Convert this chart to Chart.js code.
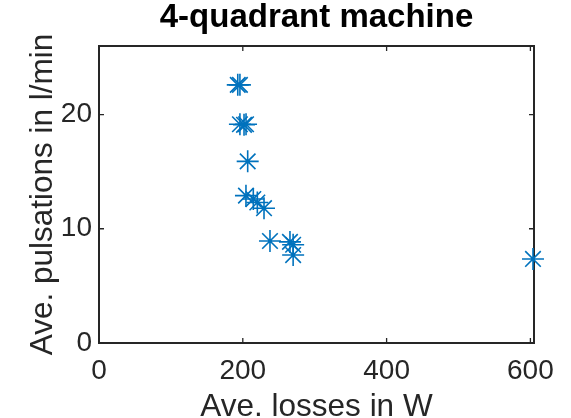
<!DOCTYPE html>
<html>
<head>
<meta charset="utf-8">
<script src="https://cdn.jsdelivr.net/npm/chart.js@4"></script>
<style>
  html, body { margin: 0; padding: 0; background: #fff; }
  #wrap { width: 571px; height: 418px; }
</style>
</head>
<body>
<div id="wrap"><canvas id="myChart"></canvas></div>
<script>
// average losses (W) vs average pulsations (l/min)
var losses = [193, 196, 196, 201.7, 204.5, 206.8, 204.4, 214.6, 220.2, 229.5, 237.8, 265.6, 270, 270, 603.6];
var pulsations = [22.6, 22.6, 19.15, 19.1, 19.15, 15.9, 12.9, 12.6, 12.3, 11.8, 8.93, 8.85, 8.6, 7.7, 7.36];
var xTicks = [0, 200, 400, 600];
var yTicks = [0, 10, 20];

var axisColor = '#262626';
var markerColor = '#0072BD';
var fontFamily = 'Liberation Sans, Arial, sans-serif';

// MATLAB style box with inward tick marks on all four sides
var boxPlugin = {
    id: 'boxAxes',
    beforeDatasetsDraw(chart) {
        const { ctx, chartArea: a, scales } = chart;
        const len = 5;
        ctx.save();
        ctx.strokeStyle = axisColor;
        ctx.lineWidth = 2;
        ctx.strokeRect(a.left, a.top, a.right - a.left, a.bottom - a.top);
        ctx.beginPath();
        xTicks.forEach(function (t) {
            const px = scales.x.getPixelForValue(t);
            ctx.moveTo(px, a.bottom); ctx.lineTo(px, a.bottom - len);
            ctx.moveTo(px, a.top); ctx.lineTo(px, a.top + len);
        });
        yTicks.forEach(function (t) {
            const py = scales.y.getPixelForValue(t);
            ctx.moveTo(a.left, py); ctx.lineTo(a.left + len, py);
            ctx.moveTo(a.right, py); ctx.lineTo(a.right - len, py);
        });
        ctx.lineWidth = 1.3;
        ctx.stroke();
        ctx.restore();
    }
};

const ctx = document.getElementById('myChart');
new Chart(ctx, {
    type: 'scatter',
    data: {
        datasets: [{
            label: '4-quadrant machine',
            data: losses.map(function (v, i) { return { x: v, y: pulsations[i] }; }),
            pointStyle: 'star',
            pointRadius: 11,
            pointHoverRadius: 11,
            borderColor: markerColor,
            backgroundColor: markerColor,
            borderWidth: 1.6,
            clip: false
        }]
    },
    options: {
        responsive: true,
        maintainAspectRatio: false,
        animation: false,
        events: [],
        layout: { padding: { left: 0, right: 37, top: 0, bottom: 0 } },
        plugins: {
            legend: { display: false },
            tooltip: { enabled: false },
            title: {
                display: true,
                text: '4-quadrant machine',
                fullSize: false,
                color: '#000',
                font: { family: fontFamily, size: 33, weight: 'bold', lineHeight: 1 },
                padding: { top: 1, bottom: 12 }
            }
        },
        scales: {
            x: {
                type: 'linear',
                min: 0,
                max: 605,
                afterBuildTicks(scale) { scale.ticks = xTicks.map(function (v) { return { value: v }; }); },
                afterFit(scale) { scale.height = 75; },
                grid: { display: false, drawTicks: false },
                border: { display: false },
                ticks: {
                    color: axisColor,
                    padding: 11,
                    maxRotation: 0,
                    font: { family: fontFamily, size: 28 }
                },
                title: {
                    display: true,
                    text: 'Ave. losses in W',
                    color: axisColor,
                    padding: { top: 0, bottom: -3 },
                    font: { family: fontFamily, size: 31.5, lineHeight: 0.9 }
                }
            },
            y: {
                type: 'linear',
                min: 0,
                max: 26,
                afterBuildTicks(scale) { scale.ticks = yTicks.map(function (v) { return { value: v }; }); },
                afterFit(scale) { scale.width = 99; },
                grid: { display: false, drawTicks: false },
                border: { display: false },
                ticks: {
                    color: axisColor,
                    padding: 7,
                    font: { family: fontFamily, size: 28 }
                },
                title: {
                    display: true,
                    text: 'Ave. pulsations in l/min',
                    color: axisColor,
                    padding: { top: 29, bottom: 0 },
                    font: { family: fontFamily, size: 31.5, lineHeight: 0.9 }
                }
            }
        }
    },
    plugins: [boxPlugin]
});
</script>
</body>
</html>
